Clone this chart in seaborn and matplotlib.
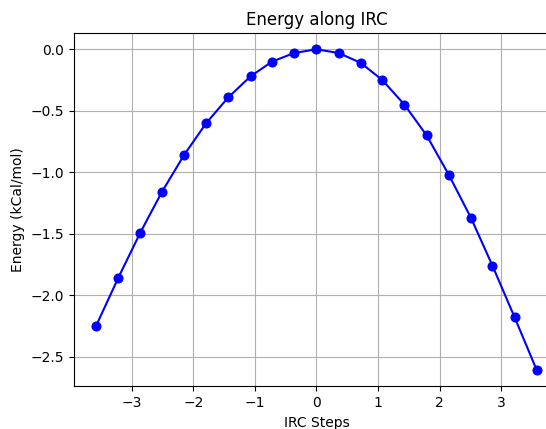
import matplotlib
matplotlib.use("Agg")
import matplotlib.pyplot as plt
import seaborn as sns
import pandas as pd

# IRC step coordinates and relative energies (kcal/mol)
irc_steps = [-3.58, -3.22, -2.86, -2.51, -2.15, -1.79, -1.43, -1.07, -0.72, -0.36,
             0.0, 0.36, 0.72, 1.07, 1.43, 1.79, 2.15, 2.51, 2.86, 3.22, 3.58]
energies = [-2.25, -1.86, -1.49, -1.16, -0.86, -0.60, -0.39, -0.22, -0.10, -0.03,
            0.0, -0.03, -0.11, -0.25, -0.45, -0.70, -1.02, -1.37, -1.76, -2.18, -2.61]

df = pd.DataFrame({"IRC Steps": irc_steps, "Energy": energies})

fig = plt.figure(figsize=(5.46, 4.29), dpi=100)
ax = fig.add_axes([0.1355, 0.0995, 0.888, 0.823])

sns.lineplot(data=df, x="IRC Steps", y="Energy", ax=ax, color="blue",
             marker="o", markersize=6.5, markeredgecolor="blue",
             linewidth=1.5, sort=False)

ax.set_title("Energy along IRC", fontsize=12)
ax.set_xlabel("IRC Steps")
ax.set_ylabel("Energy (kCal/mol)")
ax.grid(True)
ax.set_axisbelow(True)

fig.savefig("out.png", dpi=100)
